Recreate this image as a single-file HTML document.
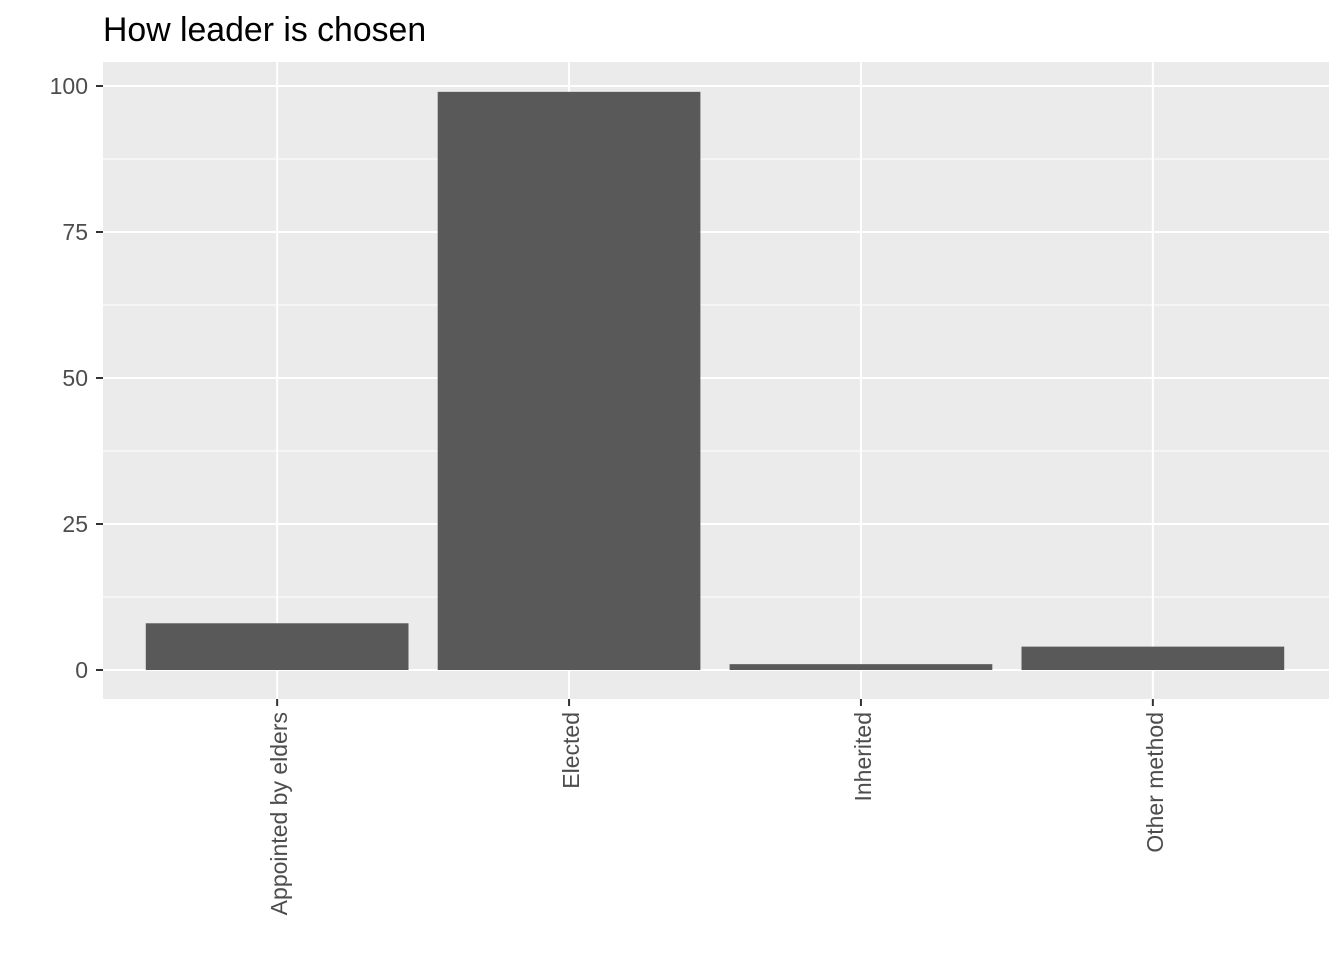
<!DOCTYPE html>
<html><head><meta charset="utf-8"><style>
html,body{margin:0;padding:0;background:#fff;}
svg{display:block;font-family:"Liberation Sans",Arial,sans-serif;}
</style></head><body>
<svg id="chart" width="1344" height="960">
<rect x="0" y="0" width="1344" height="960" fill="#fff"/>
<text x="103" y="41" font-size="33.8" fill="#000">How leader is chosen</text>
<rect x="103" y="62" width="1226" height="637" fill="#ebebeb"/>
<g id="grid"></g><g id="bars"></g><g id="axes"></g>
</svg>
<script>
const categories=["Appointed by elders","Elected","Inherited","Other method"];
const counts=[8,99,1,4];
const yTicks=[0,25,50,75,100];
const yMinor=[12.5,37.5,62.5,87.5];
const ns="http://www.w3.org/2000/svg";
const PL=103,PR=1329,PT=62,PB=699;
const y=v=>670-(v/100)*584;
const step=(PR-PL)/4.2;
const x=i=>PL+(i+0.6)*step-1;
const bw=step*0.9;
function mk(t,a,p){const e=document.createElementNS(ns,t);for(const k in a)e.setAttribute(k,a[k]);p.appendChild(e);return e;}
const grid=document.getElementById('grid'),bars=document.getElementById('bars'),axes=document.getElementById('axes');
yMinor.forEach(v=>{const l=mk('line',{x1:PL,x2:PR,y1:y(v),y2:y(v),stroke:'#fff','stroke-width':1},grid);

});
yTicks.forEach(v=>{const l=mk('line',{x1:PL,x2:PR,y1:y(v),y2:y(v),stroke:'#fff','stroke-width':2},grid);


const t=mk('line',{x1:96,x2:PL,y1:y(v),y2:y(v),stroke:'#333','stroke-width':2},axes);


const tx=mk('text',{x:88,y:y(v)+8,'text-anchor':'end','font-size':23,fill:'#4d4d4d'},axes);tx.textContent=v;

});
categories.forEach((c,i)=>{const cx=x(i);
const g=mk('line',{x1:cx,x2:cx,y1:PT,y2:PB,stroke:'#fff','stroke-width':2},grid);


const r=mk('rect',{x:cx-bw/2,y:y(counts[i]),width:bw,height:y(0)-y(counts[i]),fill:'#595959'},bars);


const t=mk('line',{x1:cx,x2:cx,y1:PB,y2:PB+7,stroke:'#333','stroke-width':2},axes);


const tx=mk('text',{x:0,y:0,'text-anchor':'end','font-size':23,fill:'#4d4d4d',transform:`translate(${cx+10},${PB+13}) rotate(-90)`},axes);tx.textContent=c;

});
</script>
</body></html>
